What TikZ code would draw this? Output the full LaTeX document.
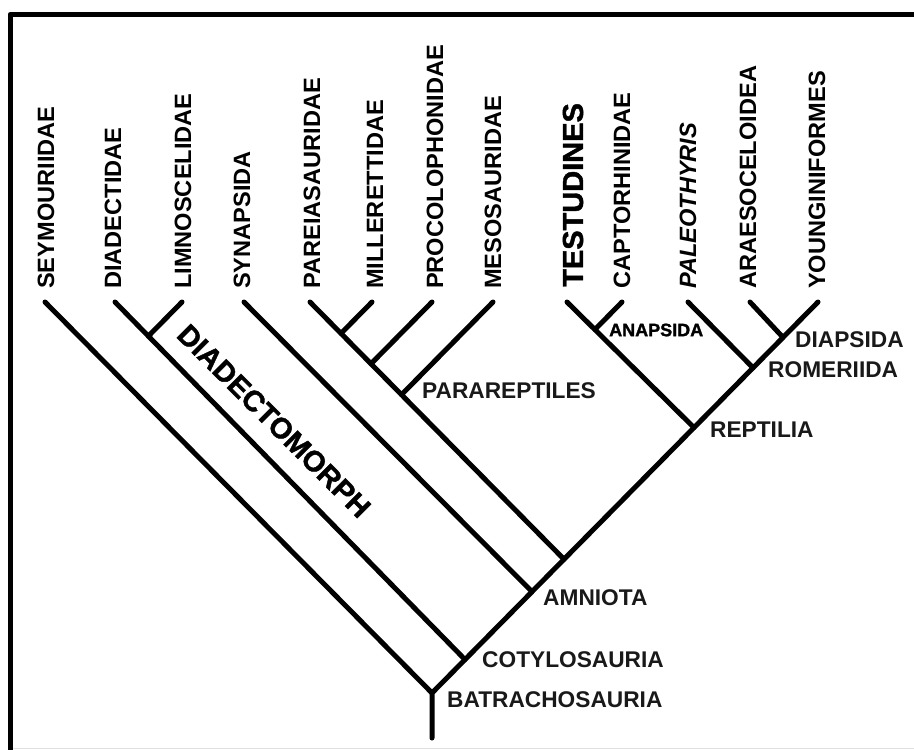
\documentclass[tikz,border=0pt]{standalone}
\usepackage{fontspec}
\setmainfont{Liberation Sans}
\newfontfamily\heavyfont[BoldFeatures={FakeBold=1.5}]{Liberation Sans}
\begin{document}
\begin{tikzpicture}[x=1pt,y=-1pt,
  branch/.style={line width=5pt, line cap=round, line join=round},
  framel/.style={line width=5.5pt, line join=round},
  leaf/.style={rotate=90, anchor=west, inner sep=0pt, font=\fontsize{23.6}{28}\selectfont\bfseries},
  bigleaf/.style={rotate=90, anchor=west, inner sep=0pt, font=\fontsize{29}{34}\selectfont\heavyfont\bfseries},
  clade/.style={anchor=west, inner sep=0pt, font=\fontsize{22.7}{27}\selectfont\bfseries, text=black!90},
  heavy/.style={inner sep=0pt, font=\heavyfont\bfseries}]
\useasboundingbox (0,0) rectangle (914,750);
% frame
\coordinate (fA) at (10.3,750);
\coordinate (fB) at (10.3,14.5);
\coordinate (fC) at (914,14.5);
\draw[framel] (fA) -- (fB) -- (fC);
\coordinate (gA) at (13,748.6);
\coordinate (gB) at (914,748.6);
\draw[black!12, line width=1pt] (gA) -- (gB);
% tips
\coordinate (tSEY) at (45,302);
\coordinate (tDIA) at (115,302);
\coordinate (tLIM) at (182,302);
\coordinate (tSYN) at (244,302);
\coordinate (tPAR) at (310,302);
\coordinate (tMIL) at (372,302);
\coordinate (tPRO) at (432,302);
\coordinate (tMES) at (493,302);
\coordinate (tTES) at (567,302);
\coordinate (tCAP) at (622,302);
\coordinate (tPAL) at (688,302);
\coordinate (tARA) at (750,302);
\coordinate (tYOU) at (818,302);
% internal nodes
\coordinate (root) at (432,738);
\coordinate (nB) at (432,693);
\coordinate (nC) at (465,659.6);
\coordinate (nA) at (532,591.7);
\coordinate (nP) at (564,559.3);
\coordinate (nR) at (694,427.6);
\coordinate (nRom) at (753,367.8);
\coordinate (nD) at (783,337.4);
\coordinate (j1) at (148.4,336.1);
\coordinate (j2) at (341,333.4);
\coordinate (j3) at (371,363.8);
\coordinate (j4) at (401.5,394.7);
\coordinate (j5) at (594.9,329.6);
% branches
\draw[branch] (root) -- (nB) -- (tYOU);
\draw[branch] (tSEY) -- (nB);
\draw[branch] (tDIA) -- (nC);
\draw[branch] (tLIM) -- (j1);
\draw[branch] (tSYN) -- (nA);
\draw[branch] (tPAR) -- (nP);
\draw[branch] (tMIL) -- (j2);
\draw[branch] (tPRO) -- (j3);
\draw[branch] (tMES) -- (j4);
\draw[branch] (tTES) -- (nR);
\draw[branch] (tCAP) -- (j5);
\draw[branch] (tPAL) -- (nRom);
\draw[branch] (tARA) -- (nD);
% leaf labels
\node[leaf] (lSEY) at (46,289) {SEYMOURIIDAE};
\node[leaf] (lDIA) at (113,289) {DIADECTIDAE};
\node[leaf] (lLIM) at (183,289) {LIMNOSCELIDAE};
\node[leaf] (lSYN) at (242,289) {SYNAPSIDA};
\node[leaf] (lPAR) at (312,289) {PAREIASAURIDAE};
\node[leaf] (lMIL) at (375,289) {MILLERETTIDAE};
\node[leaf] (lPRO) at (435,289) {PROCOLOPHONIDAE};
\node[leaf] (lMES) at (493,289) {MESOSAURIDAE};
\node[bigleaf] (lTES) at (573,287) {TESTUDINES};
\node[leaf] (lCAP) at (622,289) {CAPTORHINIDAE};
\node[leaf] (lPAL) at (688,289) {\itshape PALEOTHYRIS};
\node[leaf] (lARA) at (748,289) {ARAESOCELOIDEA};
\node[leaf] (lYOU) at (817,289) {YOUNGINIFORMES};
% clade labels
\node[heavy, rotate=-45, font=\fontsize{29}{34}\selectfont\heavyfont\bfseries] (lDMO) at (274,421) {DIADECTOMORPH};
\node[heavy, anchor=west, font=\fontsize{18}{22}\selectfont\heavyfont\bfseries] (lANA) at (609,330) {ANAPSIDA};
\node[clade] (lPARA) at (422,391) {PARAREPTILES};
\node[clade] (lDIAP) at (795,340) {DIAPSIDA};
\node[clade] (lROM) at (768,370) {ROMERIIDA};
\node[clade] (lREP) at (710,430) {REPTILIA};
\node[clade] (lAMN) at (543,598) {AMNIOTA};
\node[clade] (lCOT) at (482,660) {COTYLOSAURIA};
\node[clade] (lBAT) at (447,700) {BATRACHOSAURIA};
\end{tikzpicture}
\end{document}
